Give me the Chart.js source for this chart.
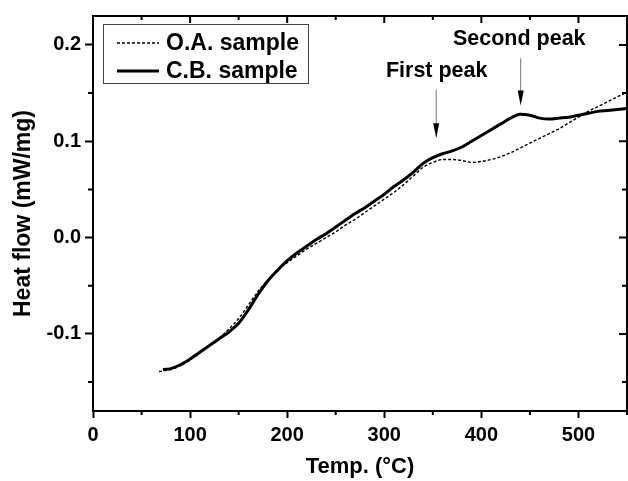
<!DOCTYPE html>
<html>
<head>
<meta charset="utf-8">
<script src="https://cdn.jsdelivr.net/npm/chart.js@4/dist/chart.umd.min.js"></script>
<style>
html, body { margin: 0; padding: 0; background: #fff; }
#wrap { width: 628px; height: 481px; }
</style>
</head>
<body>
<div id="wrap"><canvas id="dsc"></canvas></div>
<script>
// DSC curves: temperature (°C) vs heat flow (mW/mg)

const tempOA = [68, 80, 90, 100, 110, 120, 130, 140, 150, 160, 170, 180, 190, 200, 210, 220, 230, 240, 250,
  260, 270, 280, 290, 300, 310, 320, 330, 340, 350, 360, 370, 380, 390, 400, 410, 420, 430, 440, 450,
  460, 470, 480, 490, 500, 510, 520, 530, 540, 550];
const flowOA = [-0.139, -0.137, -0.133, -0.127, -0.120, -0.112, -0.104, -0.095, -0.084, -0.070, -0.056, -0.044,
  -0.034, -0.026, -0.019, -0.012, -0.006, 0.000, 0.006, 0.013, 0.019, 0.026, 0.033, 0.040, 0.047, 0.055,
  0.064, 0.073, 0.078, 0.081, 0.081, 0.080, 0.078, 0.079, 0.081, 0.084, 0.088, 0.093, 0.098, 0.103,
  0.108, 0.113, 0.119, 0.125, 0.131, 0.136, 0.141, 0.146, 0.151];

const tempCB = [72, 80, 90, 100, 110, 120, 130, 140, 150, 160, 170, 180, 190, 200, 210, 220, 230, 240, 250,
  260, 270, 280, 290, 300, 310, 320, 330, 340, 350, 360, 370, 380, 390, 400, 410, 420, 430, 440, 450,
  460, 470, 480, 490, 500, 510, 520, 530, 540, 550];
const flowCB = [-0.137, -0.136, -0.132, -0.126, -0.119, -0.112, -0.105, -0.098, -0.089, -0.075, -0.059, -0.045,
  -0.034, -0.024, -0.016, -0.009, -0.002, 0.004, 0.011, 0.018, 0.025, 0.031, 0.038, 0.045, 0.053, 0.060,
  0.068, 0.077, 0.083, 0.087, 0.090, 0.094, 0.100, 0.106, 0.112, 0.118, 0.124, 0.128, 0.127, 0.124,
  0.123, 0.124, 0.125, 0.127, 0.129, 0.131, 0.132, 0.133, 0.134];

const seriesNames = ['O.A. sample', 'C.B. sample'];

// axis ticks
const xMajor = [0, 100, 200, 300, 400, 500];
const xMinor = [50, 150, 250, 350, 450, 550];
const yMajor = [-0.1, 0, 0.1, 0.2];
const yMinor = [-0.15, -0.05, 0.05, 0.15];
const yTickLabels = ['-0.1', '0.0', '0.1', '0.2'];

// peak annotations (data coords)
const peakLabels = ['First peak', 'Second peak'];
const peakTextT = [354, 439];
const peakTextY = [0.173, 0.206];
const arrowT = [353.5, 440.5];
const arrowFrom = [0.154, 0.186];
const arrowTo = [0.103, 0.137];

const FONT = '"Liberation Sans", Arial, sans-serif';

function toPoints(xs, ys) {
  return xs.map((x, i) => ({ x: x, y: ys[i] }));
}

// frame, minor ticks, legend box and arrows
const decorations = {
  id: 'decorations',
  afterDatasetsDraw(chart) {
    const ctx = chart.ctx;
    const a = chart.chartArea;
    const xs = chart.scales.x, ys = chart.scales.y;
    ctx.save();
    ctx.strokeStyle = '#000';
    ctx.lineWidth = 2;
    ctx.beginPath();
    ctx.moveTo(a.left - 1, a.top);
    ctx.lineTo(a.right, a.top);
    ctx.lineTo(a.right, a.bottom);
    ctx.stroke();

    // ticks: top & right point inward, minor ones on bottom & left point outward
    ctx.beginPath();
    xMajor.forEach(v => { const p = xs.getPixelForValue(v); ctx.moveTo(p, a.top); ctx.lineTo(p, a.top + 7); });
    xMinor.forEach(v => {
      const p = xs.getPixelForValue(v);
      ctx.moveTo(p, a.top); ctx.lineTo(p, a.top + 4);
      ctx.moveTo(p, a.bottom); ctx.lineTo(p, a.bottom + 4);
    });
    yMajor.forEach(v => { const p = ys.getPixelForValue(v); ctx.moveTo(a.right, p); ctx.lineTo(a.right - 8, p); });
    yMinor.forEach(v => {
      const p = ys.getPixelForValue(v);
      ctx.moveTo(a.right, p); ctx.lineTo(a.right - 5, p);
      ctx.moveTo(a.left, p); ctx.lineTo(a.left - 5, p);
    });
    ctx.stroke();

    // legend
    ctx.lineWidth = 1;
    ctx.strokeStyle = '#444';
    ctx.strokeRect(103.5, 24.5, 205, 59);
    ctx.font = 'bold 23px ' + FONT;
    ctx.fillStyle = '#000';
    ctx.textBaseline = 'middle';
    ctx.textAlign = 'left';
    chart.data.datasets.forEach((ds, i) => {
      const y = 43 + i * 28;
      ctx.strokeStyle = '#000';
      ctx.lineWidth = ds.borderWidth;
      ctx.setLineDash(ds.borderDash || []);
      ctx.beginPath();
      ctx.moveTo(117, y);
      ctx.lineTo(159, y);
      ctx.stroke();
      ctx.setLineDash([]);
      ctx.fillText(ds.label, 166, y + 1);
    });

    // peak arrows and labels
    ctx.font = 'bold 21.5px ' + FONT;
    ctx.textAlign = 'center';
    peakLabels.forEach((txt, i) => {
      const px = xs.getPixelForValue(arrowT[i]);
      const y0 = ys.getPixelForValue(arrowFrom[i]);
      const y1 = ys.getPixelForValue(arrowTo[i]);
      ctx.strokeStyle = '#777';
      ctx.lineWidth = 1;
      ctx.beginPath();
      ctx.moveTo(px, y0);
      ctx.lineTo(px, y1 - 12);
      ctx.stroke();
      ctx.fillStyle = '#000';
      ctx.beginPath();
      ctx.moveTo(px - 3, y1 - 15);
      ctx.lineTo(px + 3, y1 - 15);
      ctx.lineTo(px, y1);
      ctx.closePath();
      ctx.fill();
      ctx.fillText(txt, xs.getPixelForValue(peakTextT[i]), ys.getPixelForValue(peakTextY[i]));
    });
    ctx.restore();
  }
};

new Chart(document.getElementById('dsc'), {
  type: 'line',
  data: {
    datasets: [
      { label: seriesNames[0], data: toPoints(tempOA, flowOA), borderColor: '#000', borderWidth: 1.4,
        borderDash: [3, 2], cubicInterpolationMode: 'monotone', pointRadius: 0, fill: false },
      { label: seriesNames[1], data: toPoints(tempCB, flowCB), borderColor: '#000', borderWidth: 3,
        cubicInterpolationMode: 'monotone', pointRadius: 0, fill: false }
    ]
  },
  options: {
    responsive: true,
    maintainAspectRatio: false,
    animation: false,
    layout: { padding: { top: 13, right: 1, left: 0, bottom: 0 } },
    plugins: { legend: { display: false }, tooltip: { enabled: false } },
    scales: {
      x: {
        type: 'linear', min: 0, max: 550,
        afterFit: s => { s.height = 70; },
        afterBuildTicks: s => { s.ticks = xMajor.map(v => ({ value: v })); },
        grid: { drawOnChartArea: false, tickLength: 7, tickWidth: 2, tickColor: '#000' },
        border: { color: '#000', width: 2 },
        ticks: { color: '#000', padding: 5, maxRotation: 0, font: { family: FONT, size: 20, weight: 'bold' },
          callback: v => String(v) },
        title: { display: true, text: 'Temp. (°C)', color: '#000', padding: { top: 0, bottom: 1 },
          font: { family: FONT, size: 22, weight: 'bold' } }
      },
      y: {
        min: -0.18, max: 0.23,
        afterFit: s => { s.width = 93; },
        afterBuildTicks: s => { s.ticks = yMajor.map(v => ({ value: v })); },
        grid: { drawOnChartArea: false, tickLength: 8, tickWidth: 2, tickColor: '#000' },
        border: { color: '#000', width: 2 },
        ticks: { color: '#000', padding: 4, font: { family: FONT, size: 20, weight: 'bold' },
          callback: (v, i) => yTickLabels[i] },
        title: { display: true, text: 'Heat flow (mW/mg)', color: '#000', padding: { top: 10, bottom: 0 },
          font: { family: FONT, size: 23, weight: 'bold' } }
      }
    }
  },
  plugins: [decorations]
});
</script>
</body>
</html>
